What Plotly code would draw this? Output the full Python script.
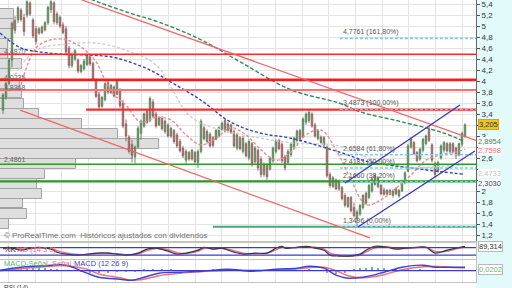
import plotly.graph_objects as go

# ---------------- price candles (weekly) ----------------
opens = [3.47,3.71,3.96,4.38,5.10,5.11,5.29,5.15,5.20,5.42,
         5.11,4.95,4.87,4.98,4.93,5.06,5.30,5.42,5.06,5.16,
         5.02,4.95,4.60,4.28,4.40,4.38,4.17,4.22,4.30,4.44,
         4.32,4.02,3.76,3.54,3.66,3.97,3.79,3.89,3.76,3.84,
         3.60,3.22,2.98,2.85,2.62,2.80,3.05,3.18,3.45,3.28,
         3.62,3.40,3.20,3.32,3.08,3.20,3.00,3.10,3.02,2.90,
         2.78,2.56,2.70,2.58,2.70,2.52,2.72,3.15,2.90,3.03,
         2.97,2.94,3.00,3.12,3.28,3.09,3.20,3.08,2.78,2.97,
         2.72,2.86,2.60,2.86,2.53,2.74,2.58,2.30,2.48,2.40,
         2.55,2.72,2.92,2.85,2.62,2.52,2.66,2.80,2.92,3.10,
         2.98,3.25,3.28,3.40,3.20,2.95,2.98,2.84,2.80,2.30,
         2.08,2.20,2.04,2.06,1.92,1.72,1.88,1.70,1.50,1.58,
         1.70,1.96,1.88,2.00,2.28,2.08,2.10,2.02,1.94,2.01,
         1.92,2.04,1.91,2.00,2.15,2.36,2.80,2.88,2.70,2.58,
         2.74,2.86,3.12,2.84,2.50,2.36,2.60,2.74,2.86,2.72,
         2.86,2.78,2.66,2.85,3.00]
highs = [3.78,3.99,4.42,5.08,5.18,5.36,5.33,5.22,5.47,5.45,
         5.15,5.00,4.98,5.01,5.09,5.37,5.47,5.45,5.26,5.19,
         5.07,5.00,4.64,4.52,4.58,4.41,4.31,4.40,4.49,4.47,
         4.35,4.05,3.80,3.73,3.98,4.00,3.95,3.92,4.04,3.87,
         3.66,3.30,3.02,2.93,2.83,3.18,3.30,3.43,3.48,3.72,
         3.67,3.44,3.36,3.36,3.30,3.23,3.17,3.13,3.06,2.95,
         2.82,2.76,2.73,2.77,2.73,2.76,3.31,3.18,3.12,3.07,
         3.00,3.13,3.18,3.26,3.31,3.25,3.22,3.12,3.06,3.00,
         3.00,2.89,2.94,2.89,2.82,2.77,2.63,2.52,2.51,2.63,
         2.81,2.94,2.95,2.88,2.66,2.76,2.88,2.99,3.12,3.13,
         3.34,3.43,3.48,3.43,3.24,3.12,3.01,3.00,2.83,2.34,
         2.27,2.23,2.21,2.09,1.96,1.90,1.91,1.79,1.66,1.76,
         1.94,1.99,2.13,2.25,2.31,2.27,2.13,2.06,2.04,2.04,
         2.03,2.07,2.04,2.21,2.36,2.86,2.98,2.91,2.73,2.79,
         2.97,3.03,3.18,2.87,2.54,2.55,2.85,2.91,2.89,2.89,
         2.89,2.81,2.88,3.08,3.23]
lows = [3.40,3.66,3.92,4.25,4.86,5.05,5.08,4.82,5.15,5.18,
        4.78,4.66,4.84,4.85,4.90,5.02,5.24,5.03,5.02,4.96,
        4.85,4.49,4.23,4.24,4.36,4.14,4.14,4.19,4.27,4.27,
        4.00,3.69,3.49,3.51,3.63,3.76,3.76,3.70,3.74,3.51,
        3.14,2.90,2.68,2.52,2.50,2.77,2.93,3.15,3.22,3.25,
        3.32,3.14,3.18,3.10,3.04,2.97,2.96,2.86,2.78,2.70,
        2.60,2.50,2.55,2.55,2.50,2.42,2.68,2.92,2.86,2.79,
        2.79,2.92,2.97,3.10,3.06,3.06,3.04,2.79,2.74,2.74,
        2.68,2.61,2.56,2.44,2.50,2.37,2.25,2.26,2.20,2.37,
        2.51,2.68,2.74,2.51,2.37,2.49,2.62,2.76,2.88,2.92,
        2.96,3.20,3.24,3.15,2.97,2.92,2.86,2.80,2.24,2.06,
        2.05,2.01,2.00,1.83,1.70,1.69,1.61,1.52,1.35,1.55,
        1.66,1.75,1.85,1.97,2.10,2.05,1.92,1.92,1.92,1.92,
        1.88,1.92,1.88,1.98,2.12,2.34,2.77,2.65,2.52,2.55,
        2.70,2.83,2.89,2.52,2.24,2.33,2.57,2.70,2.70,2.68,
        2.68,2.58,2.63,2.80,2.96]
closes = [3.75,3.96,4.38,5.05,4.92,5.33,5.12,4.90,5.44,5.22,
          4.82,4.72,4.95,4.88,5.06,5.34,5.44,5.08,5.22,5.00,
          4.88,4.53,4.28,4.48,4.55,4.18,4.28,4.36,4.46,4.31,
          4.04,3.72,3.53,3.70,3.95,3.80,3.92,3.73,4.00,3.55,
          3.18,3.00,2.72,2.65,2.80,3.14,3.27,3.40,3.25,3.68,
          3.36,3.18,3.33,3.13,3.27,3.00,3.14,2.90,2.82,2.73,
          2.64,2.72,2.58,2.74,2.53,2.72,3.27,2.95,3.08,2.82,
          2.83,3.10,3.15,3.23,3.09,3.22,3.07,2.82,3.02,2.77,
          2.96,2.64,2.90,2.50,2.78,2.42,2.30,2.48,2.26,2.60,
          2.78,2.91,2.77,2.55,2.42,2.72,2.85,2.96,3.09,2.95,
          3.31,3.40,3.43,3.18,3.00,3.09,2.88,2.97,2.28,2.10,
          2.24,2.04,2.18,1.86,1.74,1.88,1.64,1.55,1.62,1.74,
          1.92,1.78,2.10,2.22,2.12,2.24,1.95,1.94,2.01,1.94,
          2.00,1.95,2.01,2.18,2.33,2.82,2.95,2.68,2.55,2.76,
          2.94,3.00,2.92,2.56,2.30,2.52,2.82,2.88,2.73,2.86,
          2.72,2.64,2.86,3.05,3.205]
bar_idx = list(range(len(closes)))

# price-axis labels that stay visible (the others sit under value boxes)
price_tick_vals = [5.4, 5.2, 5.0, 4.8, 4.6, 4.4, 4.2, 4.0, 3.8, 3.6, 3.4, 3.0, 2.6, 2.0, 1.8, 1.6, 1.4, 1.2]

# ---------------- moving averages (sampled) ----------------
ma_green_idx = [22, 30, 42, 52, 66, 79, 96, 112, 119, 132, 146, 154]
ma_green = [5.65, 5.47, 5.24, 5.07, 4.75, 4.35, 3.84, 3.60, 3.44, 3.27, 3.07, 2.8954]
ma_blue_idx = [-1, 6, 12, 19, 29, 36, 42, 49, 56, 66, 76, 86, 96, 112, 122, 136, 146, 154]
ma_blue = [4.87, 4.60, 4.53, 4.49, 4.47, 4.44, 4.35, 4.20, 3.98, 3.65, 3.25, 3.05, 2.96, 2.71, 2.53, 2.42, 2.35, 2.303]
ma_gray_idx = [4, 11, 21, 31, 41, 51, 63, 76, 86, 97, 112, 122, 136, 146, 154]
ma_gray = [4.11, 4.56, 4.67, 4.69, 4.56, 4.29, 3.33, 3.07, 2.96, 2.87, 2.82, 2.60, 2.42, 2.45, 2.4733]
ma_pink_idx = [6, 11, 16, 21, 26, 31, 34, 37, 41, 46, 51, 56, 61, 66, 71, 76, 81, 86, 91, 96,
               101, 106, 111, 116, 121, 126, 131, 136, 141, 146, 151, 154]
ma_pink = [3.93, 4.60, 4.75, 4.75, 4.62, 4.35, 4.02, 3.75, 3.56, 3.25, 3.34, 3.29, 3.02, 2.84, 2.96,
           3.15, 3.02, 2.75, 2.56, 2.71, 3.02, 3.11, 2.75, 2.20, 1.75, 1.84, 2.05, 2.29, 2.56, 2.66,
           2.71, 2.7598]

# ---------------- volume profile ----------------
vp_price = [5.22, 5.04, 4.86, 4.67, 4.49, 4.31, 4.13, 3.95, 3.77, 3.58, 3.40,
            3.22, 3.04, 2.86, 2.67, 2.49, 2.31, 2.13, 1.95, 1.77, 1.58, 1.40]
vp_volume = [14, 14, 12, 8, 8, 22, 10, 20, 22, 24, 39, 82, 118, 159, 133, 76, 45, 37, 42, 23, 27, 9]

# ---------------- drawn levels / trend lines ----------------
red_levels = [4.487, 4.0235, 3.8368]
red_level_labels = ["4,4870", "4,0235", "3,8368"]
resistance_level = 3.48
resistance_start = 27.7
green_levels = [2.4861, 2.175]
support_low = 1.3496
support_low_start = 70
red_upper_line = [(26.3, 5.473), (157.67, 2.92)]
red_lower_line = [(5.7, 3.47), (122.3, 1.146)]
blue_upper_line = [(114.0, 2.146), (152.3, 3.564)]
blue_lower_line = [(118.3, 1.346), (157.3, 2.727)]
fib_start = 112.3
fib_levels = [4.7761, 3.4873, 2.6584, 2.4183, 2.1660, 1.3496]
fib_labels = ["4,7761 (161,80%)", "3,4873 (100,00%)", "2,6584 (61,80%)",
              "2,4183 (50,00%)", "2,1660 (38,20%)", "1,3496 (0,00%)"]

# ---------------- stochastic ----------------
sto_idx = [0,2,6,9,12,16,18,21,25,28,31,35,38,41,45,48,51,55,58,61,65,67,70,73,77,80,84,88,91,93,
           94,98,101,104,107,109,112,115,119,121,124,128,131,134,138,141,144,148,151,154]
sto_k = [75,82,59,75,82,67,43,28,20,28,36,36,28,20,36,67,75,51,28,36,59,82,67,75,43,28,36,36,75,90,
         75,82,90,75,59,20,12,12,28,59,90,82,67,75,82,82,36,59,75,89.314]
sto_d = [70,78,68,70,78,72,55,38,26,24,32,36,32,24,30,55,72,62,40,32,50,72,72,72,55,36,32,36,62,82,
         80,80,86,82,68,35,18,12,20,45,78,86,74,72,80,82,50,50,70,84]

# ---------------- MACD ----------------
macd_idx = [-1,6,14,21,28,32,39,43,47,52,59,66,75,83,91,98,102,107,111,115,120,127,133,140,144,149,154]
macd_line = [0.01,0.07,0.10,0.11,-0.05,-0.13,-0.17,-0.19,-0.13,-0.05,-0.03,-0.01,0.03,-0.01,0.03,0.05,
             0.09,0.05,-0.09,-0.15,-0.13,-0.03,0.07,0.11,0.07,0.07,0.07]
macd_signal = [0.0,0.04,0.08,0.10,0.03,-0.07,-0.14,-0.19,-0.17,-0.10,-0.05,-0.02,0.01,0.01,0.01,0.04,
               0.06,0.07,0.0,-0.10,-0.14,-0.08,0.02,0.08,0.09,0.07,0.06]
hist_idx = [6,8,10,12,14,16,18, 26,29,32,35,38,41,44,47,50,53,56,
            62,66,70,74,78,82,86,90,94,98,102, 108,111,114,
            117,119,121,123,125,127, 131,135,139,143,147,151]
hist_val = [0.03,0.05,0.06,0.06,0.05,0.04,0.02, -0.03,-0.05,-0.05,-0.04,-0.03,-0.02,-0.02,0.02,0.03,0.03,0.02,
            0.01,0.01,0.02,0.02,0.01,-0.01,0.01,0.02,0.02,0.01,0.03, -0.04,-0.06,-0.05,
            0.03,0.05,0.06,0.07,0.06,0.05, 0.04,0.03,0.02,0.01,0.01,0.01]

FONT = "Liberation Sans, Arial, sans-serif"
XR = [-1, 157.67]

fig = go.Figure()

# volume profile
fig.add_trace(go.Bar(y=vp_price, x=[v / 3.0 for v in vp_volume], base=-1, orientation='h',
                     width=0.175, marker=dict(color='#dedede', line=dict(color='#a4a4a4', width=1)),
                     xaxis='x', yaxis='y', hoverinfo='skip', showlegend=False))

# candles
fig.add_trace(go.Candlestick(x=bar_idx, open=opens, high=highs, low=lows, close=closes,
                             increasing=dict(fillcolor='#55b455', line=dict(color='#5d7d5d', width=0.9)),
                             decreasing=dict(fillcolor='#d46868', line=dict(color='#8c6262', width=0.9)),
                             whiskerwidth=0, xaxis='x', yaxis='y', showlegend=False))

# moving averages
for xs, ys, col, dash in [(ma_gray_idx, ma_gray, '#cfcfcf', '3px,2px'),
                          (ma_pink_idx, ma_pink, '#f08a8a', '3px,2px'),
                          (ma_blue_idx, ma_blue, '#3446b4', '3px,2px'),
                          (ma_green_idx, ma_green, '#2f8a5a', '4px,2px')]:
    fig.add_trace(go.Scatter(x=xs, y=ys, mode='lines',
                             line=dict(color=col, width=1.4, dash=dash, shape='spline'),
                             xaxis='x', yaxis='y', hoverinfo='skip', showlegend=False))

# stochastic
fig.add_trace(go.Scatter(x=sto_idx, y=sto_d, mode='lines', line=dict(color='#f07070', width=1.4, shape='spline'),
                         xaxis='x2', yaxis='y2', showlegend=False, hoverinfo='skip'))
fig.add_trace(go.Scatter(x=sto_idx, y=sto_k, mode='lines', line=dict(color='#333333', width=1.2, shape='spline'),
                         xaxis='x2', yaxis='y2', showlegend=False, hoverinfo='skip'))

# MACD
fig.add_trace(go.Bar(x=hist_idx, y=hist_val, width=0.35,
                     marker=dict(color=['#5cc85c' if v >= 0 else '#f08080' for v in hist_val], line=dict(width=0)),
                     xaxis='x3', yaxis='y3', showlegend=False, hoverinfo='skip'))
fig.add_trace(go.Scatter(x=macd_idx, y=macd_signal, mode='lines', line=dict(color='#f07070', width=1.4, shape='spline'),
                         xaxis='x3', yaxis='y3', showlegend=False, hoverinfo='skip'))
fig.add_trace(go.Scatter(x=macd_idx, y=macd_line, mode='lines', line=dict(color='#3a44d0', width=1.4, shape='spline'),
                         xaxis='x3', yaxis='y3', showlegend=False, hoverinfo='skip'))

shapes = []
# right axis background
shapes.append(dict(type='rect', xref='paper', yref='paper', x0=1.0, x1=1.1, y0=0, y1=1,
                   fillcolor='#e2fafa', line=dict(width=0), layer='below'))
# horizontal red levels
for v, w, c in zip(red_levels, [1.6, 2.6, 2.0], ['#ff2a2a', '#ff1a1a', '#ff7070']):
    shapes.append(dict(type='line', xref='x domain', x0=0, x1=1, yref='y', y0=v, y1=v, line=dict(color=c, width=w)))
shapes.append(dict(type='line', xref='x', x0=resistance_start, x1=XR[1], yref='y', y0=resistance_level,
                   y1=resistance_level, line=dict(color='#ff2a2a', width=2.2)))
for v, w in zip(green_levels, [1.4, 2.2]):
    shapes.append(dict(type='line', xref='x domain', x0=0, x1=1, yref='y', y0=v, y1=v, line=dict(color='#2a9a2a', width=w)))
shapes.append(dict(type='line', xref='x', x0=support_low_start, x1=XR[1], yref='y', y0=support_low, y1=support_low,
                   line=dict(color='#48a878', width=2.0)))
# fibonacci
for v in fib_levels:
    shapes.append(dict(type='line', xref='x', x0=fib_start, x1=XR[1], yref='y', y0=v, y1=v,
                       line=dict(color='#7ccaf0', width=1.6, dash='3px,2px')))
# trend lines
for (p0, p1), col in [(red_upper_line, '#f26464'), (red_lower_line, '#f26464'),
                      (blue_upper_line, '#3434c4'), (blue_lower_line, '#3434c4')]:
    shapes.append(dict(type='line', xref='x', yref='y', x0=p0[0], y0=p0[1], x1=p1[0], y1=p1[1],
                       line=dict(color=col, width=1.3)))
# stochastic bands and MACD zero
for v in [80, 20]:
    shapes.append(dict(type='line', xref='x2 domain', x0=0, x1=1, yref='y2', y0=v, y1=v, line=dict(color='#3a3ad0', width=1.2)))
shapes.append(dict(type='line', xref='x3 domain', x0=0, x1=1, yref='y3', y0=0, y1=0, line=dict(color='#3a3ad0', width=1.2)))

ann = []
for v, t in zip(red_levels, red_level_labels):
    ann.append(dict(xref='paper', x=0.004, xanchor='left', yref='y', y=v, yanchor='bottom', yshift=-3, text=t,
                    showarrow=False, font=dict(size=7, color='#666', family=FONT)))
ann.append(dict(xref='paper', x=0.004, xanchor='left', yref='y', y=green_levels[0], yanchor='bottom', yshift=-1,
                text='2,4861', showarrow=False, font=dict(size=7, color='#666', family=FONT)))
for v, t in zip(fib_levels, fib_labels):
    ann.append(dict(xref='x', x=fib_start + 0.5, xanchor='left', yref='y', y=v, yanchor='bottom', text=t,
                    showarrow=False, font=dict(size=7, color='#555', family=FONT)))
ann.append(dict(xref='paper', x=0.004, xanchor='left', yref='paper', y=1 - 235 / 288, yanchor='middle',
                text='© ProRealTime.com  Históricos ajustados con dividendos', showarrow=False,
                font=dict(size=8, color='#707070', family=FONT)))

# right value boxes
def box(yref, y, text, fg, bg, bd='#b8b8b8', bw=1):
    ann.append(dict(xref='paper', x=1.004, xanchor='left', yref=yref, y=y, yanchor='middle', text=text,
                    showarrow=False, font=dict(size=7.5, color=fg, family=FONT), bgcolor=bg,
                    bordercolor=bd, borderwidth=bw, borderpad=0))

box('y', 3.205, '3,205', '#333333', '#f2c418', '#d0a800')
box('y', 2.90, '2,8954', '#2f8a5a', '#ffffff', bw=0)
box('y', 2.735, '2,7598', '#f07070', '#ffffff', bw=0)
box('y', 2.32, '2,4733', '#c4c4c4', '#ffffff', bw=0)
box('y', 2.145, '2,3030', '#3446b4', '#ffffff', bw=0)
box('y2', 89.314, '89,314', '#333333', '#ffffff')
box('y3', 0.0202, '0,0202', '#5cbf5c', '#ffffff')

# panel titles
ann.append(dict(xref='paper', x=0.004, xanchor='left', yref='y2 domain', y=0.62, yanchor='middle', text='%K',
                showarrow=False, font=dict(size=7.5, color='#222', family=FONT)))
ann.append(dict(xref='paper', x=0.03, xanchor='left', yref='y2 domain', y=0.62, yanchor='middle', text='%D (14 3 5)',
                showarrow=False, font=dict(size=7.5, color='#f07070', family=FONT)))
ann.append(dict(xref='paper', x=0.004, xanchor='left', yref='y3 domain', y=0.82, yanchor='middle', text='MACD-Señal',
                showarrow=False, font=dict(size=7.5, color='#5cbf5c', family=FONT)))
ann.append(dict(xref='paper', x=0.105, xanchor='left', yref='y3 domain', y=0.82, yanchor='middle', text='Señal',
                showarrow=False, font=dict(size=7.5, color='#f07070', family=FONT)))
ann.append(dict(xref='paper', x=0.152, xanchor='left', yref='y3 domain', y=0.82, yanchor='middle', text='MACD (12 26 9)',
                showarrow=False, font=dict(size=7.5, color='#3a44d0', family=FONT)))
ann.append(dict(xref='paper', x=0.004, xanchor='left', yref='paper', y=1 - 282 / 288, yanchor='top', text='RSI (14)',
                showarrow=False, font=dict(size=6.5, color='#444', family=FONT)))

grid = '#e4e4e4'
xcommon = dict(range=XR, showticklabels=False, showgrid=True, gridcolor=grid, gridwidth=1,
               tickmode='linear', tick0=1.77, dtick=8.9, zeroline=False, ticks='',
               showline=True, linecolor='#c4c4c4', mirror=True)

fig.update_layout(
    width=512, height=288, margin=dict(l=0, r=36, t=0, b=0),
    paper_bgcolor='#ffffff', plot_bgcolor='#ffffff', separators=', ',
    showlegend=False, bargap=0, shapes=shapes, annotations=ann,
    font=dict(family=FONT, size=8, color='#333'),
    xaxis=dict(anchor='y', rangeslider=dict(visible=False), **xcommon),
    xaxis2=dict(anchor='y2', matches='x', **xcommon),
    xaxis3=dict(anchor='y3', matches='x', **xcommon),
    xaxis4=dict(anchor='y4', matches='x', **xcommon),
    yaxis=dict(domain=[1 - 241 / 288, 1], range=[1.091, 5.473], side='right',
               tickmode='array', tickvals=price_tick_vals, ticklabeloverflow='allow',
               minor=dict(tickmode='linear', tick0=0, dtick=0.2, showgrid=True, gridcolor=grid,
                          ticks='outside', ticklen=3, tickcolor='#555'),
               showgrid=True, gridcolor=grid, zeroline=False, ticks='outside', ticklen=3, tickcolor='#555',
               showline=True, linecolor='#666', tickfont=dict(size=8, color='#333', family=FONT)),
    yaxis2=dict(domain=[1 - 259 / 288, 1 - 243 / 288], range=[-11, 116], side='right', showticklabels=False,
                showgrid=False, zeroline=False, showline=True, linecolor='#c4c4c4', mirror=True),
    yaxis3=dict(domain=[1 - 282 / 288, 1 - 260 / 288], range=[-0.226, 0.214], side='right', showticklabels=False,
                showgrid=False, zeroline=False, showline=True, linecolor='#c4c4c4', mirror=True),
    yaxis4=dict(domain=[0, 1 - 283 / 288], range=[0, 100], side='right', showticklabels=False,
                showgrid=False, zeroline=False, showline=True, linecolor='#c4c4c4', mirror=True),
)

fig.write_html("out.html")
